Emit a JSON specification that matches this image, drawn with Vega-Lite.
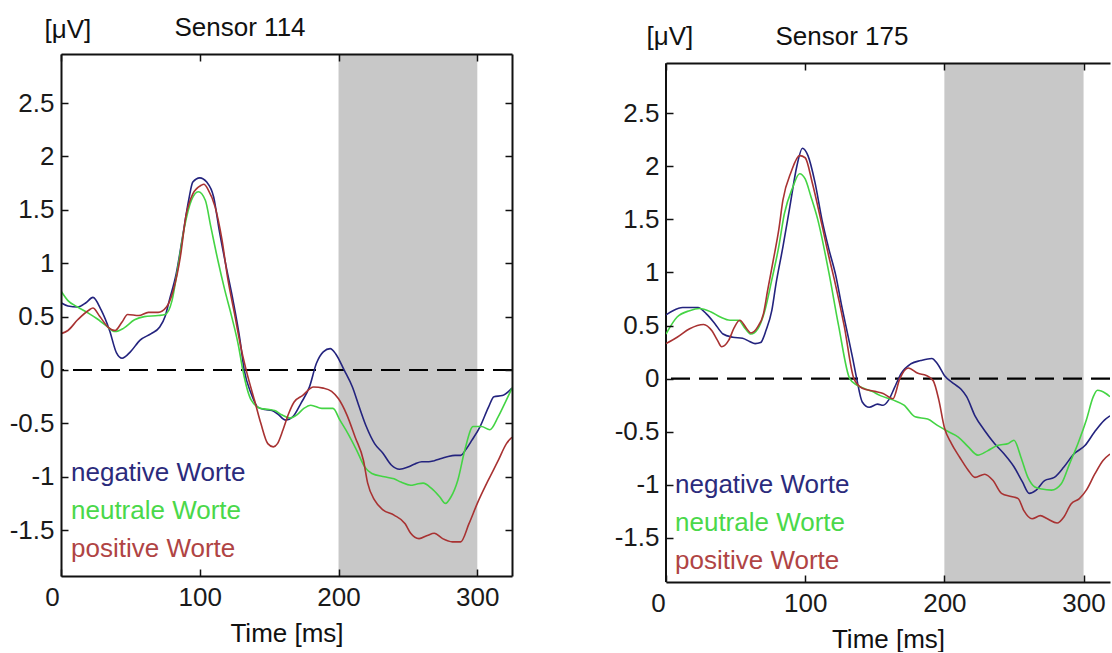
{
"$schema": "https://vega.github.io/schema/vega-lite/v6.json",
"background": "white",
"padding": {"left": 9, "top": 14, "right": 0, "bottom": 0},
"spacing": 99,
"config": {"view": {"stroke": null}, "font": "Liberation Sans", "axis": {"grid": false}},
"resolve": {"scale": {"color": "independent"}, "legend": {"color": "independent"}},
"datasets": {
"band": [{"a": 200, "b": 300}],
"zero": [{"z": 0}],
"s114": [
{"c":"negative Worte","t":0,"v":0.63},{"c":"negative Worte","t":5,"v":0.60},{"c":"negative Worte","t":12,"v":0.59},{"c":"negative Worte","t":18,"v":0.63},{"c":"negative Worte","t":23,"v":0.68},{"c":"negative Worte","t":29,"v":0.56},{"c":"negative Worte","t":35,"v":0.37},{"c":"negative Worte","t":40,"v":0.16},{"c":"negative Worte","t":44,"v":0.11},{"c":"negative Worte","t":50,"v":0.17},{"c":"negative Worte","t":57,"v":0.28},{"c":"negative Worte","t":65,"v":0.34},{"c":"negative Worte","t":71,"v":0.40},{"c":"negative Worte","t":75,"v":0.50},{"c":"negative Worte","t":78,"v":0.65},{"c":"negative Worte","t":83,"v":0.90},{"c":"negative Worte","t":88,"v":1.28},{"c":"negative Worte","t":92,"v":1.59},{"c":"negative Worte","t":95,"v":1.76},{"c":"negative Worte","t":100,"v":1.80},{"c":"negative Worte","t":105,"v":1.76},{"c":"negative Worte","t":110,"v":1.62},{"c":"negative Worte","t":114,"v":1.31},{"c":"negative Worte","t":119,"v":0.97},{"c":"negative Worte","t":124,"v":0.65},{"c":"negative Worte","t":129,"v":0.28},{"c":"negative Worte","t":132,"v":0.0},{"c":"negative Worte","t":137,"v":-0.22},{"c":"negative Worte","t":142,"v":-0.35},{"c":"negative Worte","t":147,"v":-0.37},{"c":"negative Worte","t":152,"v":-0.38},{"c":"negative Worte","t":156,"v":-0.41},{"c":"negative Worte","t":162,"v":-0.47},{"c":"negative Worte","t":167,"v":-0.44},{"c":"negative Worte","t":173,"v":-0.31},{"c":"negative Worte","t":179,"v":-0.16},{"c":"negative Worte","t":184,"v":0.06},{"c":"negative Worte","t":189,"v":0.17},{"c":"negative Worte","t":194,"v":0.20},{"c":"negative Worte","t":198,"v":0.15},{"c":"negative Worte","t":204,"v":0.0},{"c":"negative Worte","t":210,"v":-0.16},{"c":"negative Worte","t":215,"v":-0.35},{"c":"negative Worte","t":220,"v":-0.53},{"c":"negative Worte","t":226,"v":-0.69},{"c":"negative Worte","t":232,"v":-0.78},{"c":"negative Worte","t":238,"v":-0.89},{"c":"negative Worte","t":244,"v":-0.93},{"c":"negative Worte","t":250,"v":-0.91},{"c":"negative Worte","t":255,"v":-0.88},{"c":"negative Worte","t":260,"v":-0.86},{"c":"negative Worte","t":265,"v":-0.86},{"c":"negative Worte","t":269,"v":-0.85},{"c":"negative Worte","t":274,"v":-0.83},{"c":"negative Worte","t":279,"v":-0.81},{"c":"negative Worte","t":284,"v":-0.80},{"c":"negative Worte","t":288,"v":-0.80},{"c":"negative Worte","t":292,"v":-0.74},{"c":"negative Worte","t":296,"v":-0.66},{"c":"negative Worte","t":302,"v":-0.53},{"c":"negative Worte","t":308,"v":-0.35},{"c":"negative Worte","t":312,"v":-0.25},{"c":"negative Worte","t":318,"v":-0.24},{"c":"negative Worte","t":325,"v":-0.17},
{"c":"neutrale Worte","t":0,"v":0.74},{"c":"neutrale Worte","t":5,"v":0.65},{"c":"neutrale Worte","t":12,"v":0.59},{"c":"neutrale Worte","t":20,"v":0.53},{"c":"neutrale Worte","t":26,"v":0.48},{"c":"neutrale Worte","t":32,"v":0.42},{"c":"neutrale Worte","t":39,"v":0.36},{"c":"neutrale Worte","t":45,"v":0.39},{"c":"neutrale Worte","t":53,"v":0.47},{"c":"neutrale Worte","t":60,"v":0.50},{"c":"neutrale Worte","t":70,"v":0.51},{"c":"neutrale Worte","t":75,"v":0.52},{"c":"neutrale Worte","t":80,"v":0.65},{"c":"neutrale Worte","t":84,"v":0.94},{"c":"neutrale Worte","t":89,"v":1.34},{"c":"neutrale Worte","t":94,"v":1.59},{"c":"neutrale Worte","t":99,"v":1.67},{"c":"neutrale Worte","t":104,"v":1.59},{"c":"neutrale Worte","t":108,"v":1.34},{"c":"neutrale Worte","t":113,"v":1.03},{"c":"neutrale Worte","t":118,"v":0.75},{"c":"neutrale Worte","t":123,"v":0.50},{"c":"neutrale Worte","t":128,"v":0.22},{"c":"neutrale Worte","t":131,"v":0.0},{"c":"neutrale Worte","t":137,"v":-0.28},{"c":"neutrale Worte","t":144,"v":-0.36},{"c":"neutrale Worte","t":150,"v":-0.37},{"c":"neutrale Worte","t":154,"v":-0.38},{"c":"neutrale Worte","t":159,"v":-0.42},{"c":"neutrale Worte","t":165,"v":-0.45},{"c":"neutrale Worte","t":170,"v":-0.42},{"c":"neutrale Worte","t":175,"v":-0.36},{"c":"neutrale Worte","t":180,"v":-0.33},{"c":"neutrale Worte","t":188,"v":-0.36},{"c":"neutrale Worte","t":196,"v":-0.36},{"c":"neutrale Worte","t":201,"v":-0.47},{"c":"neutrale Worte","t":207,"v":-0.60},{"c":"neutrale Worte","t":213,"v":-0.75},{"c":"neutrale Worte","t":219,"v":-0.91},{"c":"neutrale Worte","t":224,"v":-0.97},{"c":"neutrale Worte","t":233,"v":-1.00},{"c":"neutrale Worte","t":240,"v":-1.02},{"c":"neutrale Worte","t":245,"v":-1.05},{"c":"neutrale Worte","t":252,"v":-1.08},{"c":"neutrale Worte","t":256,"v":-1.07},{"c":"neutrale Worte","t":261,"v":-1.06},{"c":"neutrale Worte","t":267,"v":-1.11},{"c":"neutrale Worte","t":273,"v":-1.19},{"c":"neutrale Worte","t":277,"v":-1.25},{"c":"neutrale Worte","t":281,"v":-1.19},{"c":"neutrale Worte","t":286,"v":-1.03},{"c":"neutrale Worte","t":291,"v":-0.75},{"c":"neutrale Worte","t":297,"v":-0.53},{"c":"neutrale Worte","t":303,"v":-0.53},{"c":"neutrale Worte","t":309,"v":-0.56},{"c":"neutrale Worte","t":315,"v":-0.44},{"c":"neutrale Worte","t":321,"v":-0.28},{"c":"neutrale Worte","t":325,"v":-0.17},
{"c":"positive Worte","t":0,"v":0.34},{"c":"positive Worte","t":5,"v":0.37},{"c":"positive Worte","t":12,"v":0.47},{"c":"positive Worte","t":20,"v":0.56},{"c":"positive Worte","t":23,"v":0.58},{"c":"positive Worte","t":28,"v":0.50},{"c":"positive Worte","t":34,"v":0.40},{"c":"positive Worte","t":39,"v":0.37},{"c":"positive Worte","t":44,"v":0.45},{"c":"positive Worte","t":48,"v":0.52},{"c":"positive Worte","t":56,"v":0.51},{"c":"positive Worte","t":63,"v":0.54},{"c":"positive Worte","t":70,"v":0.54},{"c":"positive Worte","t":76,"v":0.59},{"c":"positive Worte","t":81,"v":0.75},{"c":"positive Worte","t":86,"v":1.06},{"c":"positive Worte","t":90,"v":1.44},{"c":"positive Worte","t":95,"v":1.65},{"c":"positive Worte","t":101,"v":1.73},{"c":"positive Worte","t":103,"v":1.74},{"c":"positive Worte","t":106,"v":1.69},{"c":"positive Worte","t":111,"v":1.53},{"c":"positive Worte","t":116,"v":1.22},{"c":"positive Worte","t":120,"v":0.87},{"c":"positive Worte","t":125,"v":0.53},{"c":"positive Worte","t":130,"v":0.19},{"c":"positive Worte","t":134,"v":-0.03},{"c":"positive Worte","t":140,"v":-0.31},{"c":"positive Worte","t":144,"v":-0.50},{"c":"positive Worte","t":149,"v":-0.69},{"c":"positive Worte","t":153,"v":-0.72},{"c":"positive Worte","t":156,"v":-0.69},{"c":"positive Worte","t":160,"v":-0.56},{"c":"positive Worte","t":164,"v":-0.41},{"c":"positive Worte","t":168,"v":-0.30},{"c":"positive Worte","t":174,"v":-0.24},{"c":"positive Worte","t":182,"v":-0.16},{"c":"positive Worte","t":189,"v":-0.17},{"c":"positive Worte","t":195,"v":-0.20},{"c":"positive Worte","t":200,"v":-0.27},{"c":"positive Worte","t":206,"v":-0.42},{"c":"positive Worte","t":212,"v":-0.63},{"c":"positive Worte","t":218,"v":-0.85},{"c":"positive Worte","t":221,"v":-1.06},{"c":"positive Worte","t":226,"v":-1.22},{"c":"positive Worte","t":232,"v":-1.31},{"c":"positive Worte","t":240,"v":-1.36},{"c":"positive Worte","t":248,"v":-1.44},{"c":"positive Worte","t":252,"v":-1.53},{"c":"positive Worte","t":258,"v":-1.58},{"c":"positive Worte","t":264,"v":-1.55},{"c":"positive Worte","t":269,"v":-1.53},{"c":"positive Worte","t":275,"v":-1.58},{"c":"positive Worte","t":282,"v":-1.61},{"c":"positive Worte","t":288,"v":-1.61},{"c":"positive Worte","t":294,"v":-1.44},{"c":"positive Worte","t":300,"v":-1.25},{"c":"positive Worte","t":308,"v":-1.03},{"c":"positive Worte","t":315,"v":-0.85},{"c":"positive Worte","t":321,"v":-0.69},{"c":"positive Worte","t":325,"v":-0.63}
],
"s175": [
{"c":"negative Worte","t":0,"v":0.60},{"c":"negative Worte","t":5,"v":0.64},{"c":"negative Worte","t":12,"v":0.67},{"c":"negative Worte","t":23,"v":0.67},{"c":"negative Worte","t":29,"v":0.61},{"c":"negative Worte","t":35,"v":0.52},{"c":"negative Worte","t":41,"v":0.42},{"c":"negative Worte","t":48,"v":0.39},{"c":"negative Worte","t":55,"v":0.38},{"c":"negative Worte","t":60,"v":0.35},{"c":"negative Worte","t":64,"v":0.33},{"c":"negative Worte","t":68,"v":0.34},{"c":"negative Worte","t":72,"v":0.46},{"c":"negative Worte","t":76,"v":0.64},{"c":"negative Worte","t":79,"v":0.89},{"c":"negative Worte","t":84,"v":1.24},{"c":"negative Worte","t":89,"v":1.62},{"c":"negative Worte","t":94,"v":2.0},{"c":"negative Worte","t":98,"v":2.17},{"c":"negative Worte","t":102,"v":2.10},{"c":"negative Worte","t":107,"v":1.85},{"c":"negative Worte","t":112,"v":1.50},{"c":"negative Worte","t":117,"v":1.22},{"c":"negative Worte","t":122,"v":0.97},{"c":"negative Worte","t":126,"v":0.70},{"c":"negative Worte","t":130,"v":0.45},{"c":"negative Worte","t":134,"v":0.20},{"c":"negative Worte","t":137,"v":0.0},{"c":"negative Worte","t":141,"v":-0.22},{"c":"negative Worte","t":146,"v":-0.27},{"c":"negative Worte","t":152,"v":-0.24},{"c":"negative Worte","t":156,"v":-0.25},{"c":"negative Worte","t":160,"v":-0.20},{"c":"negative Worte","t":164,"v":-0.09},{"c":"negative Worte","t":169,"v":0.05},{"c":"negative Worte","t":176,"v":0.14},{"c":"negative Worte","t":183,"v":0.17},{"c":"negative Worte","t":191,"v":0.19},{"c":"negative Worte","t":195,"v":0.14},{"c":"negative Worte","t":200,"v":0.03},{"c":"negative Worte","t":207,"v":-0.05},{"c":"negative Worte","t":212,"v":-0.10},{"c":"negative Worte","t":216,"v":-0.17},{"c":"negative Worte","t":222,"v":-0.35},{"c":"negative Worte","t":229,"v":-0.49},{"c":"negative Worte","t":236,"v":-0.61},{"c":"negative Worte","t":243,"v":-0.71},{"c":"negative Worte","t":250,"v":-0.83},{"c":"negative Worte","t":256,"v":-0.97},{"c":"negative Worte","t":261,"v":-1.08},{"c":"negative Worte","t":266,"v":-1.05},{"c":"negative Worte","t":272,"v":-0.96},{"c":"negative Worte","t":279,"v":-0.93},{"c":"negative Worte","t":286,"v":-0.83},{"c":"negative Worte","t":293,"v":-0.71},{"c":"negative Worte","t":301,"v":-0.63},{"c":"negative Worte","t":308,"v":-0.50},{"c":"negative Worte","t":315,"v":-0.39},{"c":"negative Worte","t":319,"v":-0.35},
{"c":"neutrale Worte","t":0,"v":0.42},{"c":"neutrale Worte","t":8,"v":0.58},{"c":"neutrale Worte","t":17,"v":0.64},{"c":"neutrale Worte","t":24,"v":0.66},{"c":"neutrale Worte","t":32,"v":0.63},{"c":"neutrale Worte","t":39,"v":0.58},{"c":"neutrale Worte","t":46,"v":0.55},{"c":"neutrale Worte","t":52,"v":0.55},{"c":"neutrale Worte","t":57,"v":0.47},{"c":"neutrale Worte","t":61,"v":0.42},{"c":"neutrale Worte","t":66,"v":0.47},{"c":"neutrale Worte","t":71,"v":0.64},{"c":"neutrale Worte","t":76,"v":0.93},{"c":"neutrale Worte","t":81,"v":1.24},{"c":"neutrale Worte","t":85,"v":1.55},{"c":"neutrale Worte","t":91,"v":1.80},{"c":"neutrale Worte","t":96,"v":1.93},{"c":"neutrale Worte","t":100,"v":1.88},{"c":"neutrale Worte","t":104,"v":1.72},{"c":"neutrale Worte","t":109,"v":1.50},{"c":"neutrale Worte","t":117,"v":1.00},{"c":"neutrale Worte","t":124,"v":0.50},{"c":"neutrale Worte","t":132,"v":0.0},{"c":"neutrale Worte","t":137,"v":-0.06},{"c":"neutrale Worte","t":142,"v":-0.09},{"c":"neutrale Worte","t":148,"v":-0.12},{"c":"neutrale Worte","t":154,"v":-0.16},{"c":"neutrale Worte","t":163,"v":-0.20},{"c":"neutrale Worte","t":171,"v":-0.25},{"c":"neutrale Worte","t":179,"v":-0.36},{"c":"neutrale Worte","t":188,"v":-0.38},{"c":"neutrale Worte","t":195,"v":-0.44},{"c":"neutrale Worte","t":203,"v":-0.50},{"c":"neutrale Worte","t":210,"v":-0.55},{"c":"neutrale Worte","t":217,"v":-0.64},{"c":"neutrale Worte","t":224,"v":-0.72},{"c":"neutrale Worte","t":231,"v":-0.68},{"c":"neutrale Worte","t":238,"v":-0.63},{"c":"neutrale Worte","t":246,"v":-0.61},{"c":"neutrale Worte","t":250,"v":-0.58},{"c":"neutrale Worte","t":255,"v":-0.74},{"c":"neutrale Worte","t":260,"v":-0.93},{"c":"neutrale Worte","t":265,"v":-1.02},{"c":"neutrale Worte","t":270,"v":-1.04},{"c":"neutrale Worte","t":277,"v":-1.05},{"c":"neutrale Worte","t":284,"v":-0.99},{"c":"neutrale Worte","t":290,"v":-0.80},{"c":"neutrale Worte","t":296,"v":-0.61},{"c":"neutrale Worte","t":302,"v":-0.39},{"c":"neutrale Worte","t":307,"v":-0.17},{"c":"neutrale Worte","t":310,"v":-0.11},{"c":"neutrale Worte","t":316,"v":-0.14},{"c":"neutrale Worte","t":319,"v":-0.17},
{"c":"positive Worte","t":0,"v":0.33},{"c":"positive Worte","t":8,"v":0.39},{"c":"positive Worte","t":17,"v":0.47},{"c":"positive Worte","t":27,"v":0.51},{"c":"positive Worte","t":33,"v":0.45},{"c":"positive Worte","t":37,"v":0.36},{"c":"positive Worte","t":40,"v":0.30},{"c":"positive Worte","t":45,"v":0.36},{"c":"positive Worte","t":49,"v":0.48},{"c":"positive Worte","t":53,"v":0.55},{"c":"positive Worte","t":58,"v":0.47},{"c":"positive Worte","t":61,"v":0.43},{"c":"positive Worte","t":66,"v":0.49},{"c":"positive Worte","t":70,"v":0.61},{"c":"positive Worte","t":73,"v":0.83},{"c":"positive Worte","t":77,"v":1.11},{"c":"positive Worte","t":81,"v":1.40},{"c":"positive Worte","t":84,"v":1.68},{"c":"positive Worte","t":90,"v":1.95},{"c":"positive Worte","t":96,"v":2.10},{"c":"positive Worte","t":100,"v":2.08},{"c":"positive Worte","t":105,"v":1.85},{"c":"positive Worte","t":112,"v":1.45},{"c":"positive Worte","t":117,"v":1.15},{"c":"positive Worte","t":121,"v":0.93},{"c":"positive Worte","t":128,"v":0.50},{"c":"positive Worte","t":135,"v":0.0},{"c":"positive Worte","t":141,"v":-0.09},{"c":"positive Worte","t":150,"v":-0.12},{"c":"positive Worte","t":156,"v":-0.14},{"c":"positive Worte","t":163,"v":-0.19},{"c":"positive Worte","t":168,"v":0.0},{"c":"positive Worte","t":174,"v":0.10},{"c":"positive Worte","t":181,"v":0.05},{"c":"positive Worte","t":187,"v":0.03},{"c":"positive Worte","t":192,"v":-0.02},{"c":"positive Worte","t":196,"v":-0.20},{"c":"positive Worte","t":200,"v":-0.46},{"c":"positive Worte","t":205,"v":-0.61},{"c":"positive Worte","t":211,"v":-0.74},{"c":"positive Worte","t":217,"v":-0.86},{"c":"positive Worte","t":222,"v":-0.93},{"c":"positive Worte","t":229,"v":-0.90},{"c":"positive Worte","t":235,"v":-0.96},{"c":"positive Worte","t":241,"v":-1.08},{"c":"positive Worte","t":248,"v":-1.11},{"c":"positive Worte","t":253,"v":-1.13},{"c":"positive Worte","t":257,"v":-1.24},{"c":"positive Worte","t":263,"v":-1.32},{"c":"positive Worte","t":269,"v":-1.29},{"c":"positive Worte","t":274,"v":-1.32},{"c":"positive Worte","t":281,"v":-1.36},{"c":"positive Worte","t":286,"v":-1.30},{"c":"positive Worte","t":291,"v":-1.18},{"c":"positive Worte","t":297,"v":-1.13},{"c":"positive Worte","t":302,"v":-1.05},{"c":"positive Worte","t":308,"v":-0.90},{"c":"positive Worte","t":314,"v":-0.77},{"c":"positive Worte","t":319,"v":-0.71}
]
},
"hconcat": [
{
"width": 451, "height": 522,
"resolve": {"axis": {"x": "independent", "y": "independent"}},
"layer": [
{"data": {"name": "band"}, "mark": {"type": "rect", "color": "#c8c8c8"},
 "encoding": {"x": {"field": "a", "type": "quantitative", "scale": {"domain": [0, 325], "nice": false, "zero": false}, "axis": null}, "x2": {"field": "b"}}},
{"data": {"name": "zero"}, "mark": {"type": "rule", "color": "#000000", "strokeWidth": 2.2, "strokeDash": [19, 9]},
 "encoding": {"y": {"field": "z", "type": "quantitative", "scale": {"domain": [-1.93, 2.96], "nice": false, "zero": false}, "axis": null}}},
{"data": {"name": "s114"}, "mark": {"type": "line", "strokeWidth": 1.6, "interpolate": "monotone", "clip": true},
 "encoding": {
  "x": {"field": "t", "type": "quantitative", "scale": {"domain": [0, 325], "nice": false, "zero": false},
   "axis": {"orient": "bottom", "values": [0, 100, 200, 300], "title": "Time [ms]", "domain": true, "domainColor": "#111111", "domainWidth": 2, "ticks": true, "tickSize": -7, "tickColor": "#111111", "tickWidth": 1.5, "labelFontSize": 26, "labelColor": "#1a1a1a", "labelPadding": 15, "labelFlush": false, "labelOverlap": false, "labelOffset": {"condition": {"test": "datum.value === 0", "value": -9}, "value": 0}, "titleFontSize": 26, "titleFontWeight": "normal", "titleColor": "#111111", "titlePadding": 10, "zindex": 1}},
  "y": {"field": "v", "type": "quantitative", "scale": {"domain": [-1.93, 2.96], "nice": false, "zero": false},
   "axis": {"orient": "left", "values": [-1.5, -1, -0.5, 0, 0.5, 1, 1.5, 2, 2.5], "labelExpr": "'' + datum.value", "domain": true, "domainColor": "#111111", "domainWidth": 2, "tickSize": -7, "tickColor": "#111111", "tickWidth": 1.5, "labelFontSize": 26, "labelColor": "#1a1a1a", "labelPadding": 14, "labelOverlap": false, "title": "[μV]", "titleAngle": 0, "titleAlign": "left", "titleBaseline": "alphabetic", "titleX": -17, "titleY": -17, "titleFontSize": 26, "titleFontWeight": "normal", "titleColor": "#111111", "zindex": 1}},
  "color": {"field": "c", "type": "nominal", "scale": {"domain": ["negative Worte", "neutrale Worte", "positive Worte"], "range": ["#23237e", "#44d444", "#a83232"]},
   "legend": {"orient": "none", "legendX": -16, "legendY": 406, "title": null, "symbolSize": 0, "symbolOpacity": 0, "symbolStrokeWidth": 0, "labelOffset": 0, "labelFontSize": 26, "labelLimit": 400, "rowPadding": 12, "padding": 0,
    "encode": {"labels": {"update": {"fill": {"signal": "datum.value == 'negative Worte' ? '#2b2b7c' : datum.value == 'neutrale Worte' ? '#4ad84a' : '#b04444'"}}}}}}
 }},
{"data": {"name": "s114"}, "mark": {"type": "point", "opacity": 0},
 "encoding": {
  "x": {"field": "t", "type": "quantitative", "scale": {"domain": [0, 325], "nice": false, "zero": false},
   "axis": {"orient": "top", "values": [0, 100, 200, 300], "labels": false, "domain": true, "domainColor": "#111111", "domainWidth": 2, "tickSize": -7, "tickColor": "#111111", "tickWidth": 1.5, "title": "Sensor 114", "titleAngle": 0, "titleAlign": "left", "titleBaseline": "alphabetic", "titleX": 113, "titleY": -19, "titleFontSize": 26, "titleFontWeight": "normal", "titleColor": "#111111", "zindex": 1}},
  "y": {"field": "v", "type": "quantitative", "scale": {"domain": [-1.93, 2.96], "nice": false, "zero": false},
   "axis": {"orient": "right", "values": [-1.5, -1, -0.5, 0, 0.5, 1, 1.5, 2, 2.5], "labels": false, "title": null, "domain": true, "domainColor": "#111111", "domainWidth": 2, "tickSize": -7, "tickColor": "#111111", "tickWidth": 1.5, "zindex": 1}}
 }}
]
},
{
"width": 444, "height": 528,
"resolve": {"axis": {"x": "independent", "y": "independent"}},
"layer": [
{"data": {"name": "band"}, "mark": {"type": "rect", "color": "#c8c8c8"},
 "encoding": {"x": {"field": "a", "type": "quantitative", "scale": {"domain": [0, 319], "nice": false, "zero": false}, "axis": null}, "x2": {"field": "b"},
  "y": {"datum": -1.915, "type": "quantitative", "scale": {"domain": [-1.915, 3.057], "nice": false, "zero": false}, "axis": null}, "y2": {"datum": 2.97}}},
{"data": {"name": "zero"}, "mark": {"type": "rule", "color": "#000000", "strokeWidth": 2.2, "strokeDash": [19, 9]},
 "encoding": {"y": {"field": "z", "type": "quantitative", "scale": {"domain": [-1.915, 3.057], "nice": false, "zero": false}, "axis": null}}},
{"data": {"name": "zero"}, "mark": {"type": "rule", "color": "#111111", "strokeWidth": 2},
 "encoding": {"x": {"datum": 0, "type": "quantitative", "scale": {"domain": [0, 319], "nice": false, "zero": false}, "axis": null},
  "y": {"datum": -1.915, "type": "quantitative", "scale": {"domain": [-1.915, 3.057], "nice": false, "zero": false}, "axis": null}, "y2": {"datum": 2.97}}},
{"data": {"name": "s175"}, "mark": {"type": "line", "strokeWidth": 1.6, "interpolate": "monotone", "clip": true},
 "encoding": {
  "x": {"field": "t", "type": "quantitative", "scale": {"domain": [0, 319], "nice": false, "zero": false},
   "axis": {"orient": "bottom", "values": [0, 100, 200, 300], "title": "Time [ms]", "domain": true, "domainColor": "#111111", "domainWidth": 2, "ticks": true, "tickSize": -7, "tickColor": "#111111", "tickWidth": 1.5, "labelFontSize": 26, "labelColor": "#1a1a1a", "labelPadding": 15, "labelFlush": false, "labelOverlap": false, "labelOffset": {"condition": {"test": "datum.value === 0", "value": -8}, "value": 0}, "titleFontSize": 26, "titleFontWeight": "normal", "titleColor": "#111111", "titlePadding": 10, "zindex": 1}},
  "y": {"field": "v", "type": "quantitative", "scale": {"domain": [-1.915, 3.057], "nice": false, "zero": false},
   "axis": {"orient": "left", "values": [-1.5, -1, -0.5, 0, 0.5, 1, 1.5, 2, 2.5], "labelExpr": "'' + datum.value", "domain": false, "tickSize": -7, "tickColor": "#111111", "tickWidth": 1.5, "labelFontSize": 26, "labelColor": "#1a1a1a", "labelPadding": 14, "labelOverlap": false, "title": "[μV]", "titleAngle": 0, "titleAlign": "left", "titleBaseline": "alphabetic", "titleX": -20, "titleY": -9.5, "titleFontSize": 26, "titleFontWeight": "normal", "titleColor": "#111111", "zindex": 1}},
  "color": {"field": "c", "type": "nominal", "scale": {"domain": ["negative Worte", "neutrale Worte", "positive Worte"], "range": ["#23237e", "#44d444", "#a83232"]},
   "legend": {"orient": "none", "legendX": -17, "legendY": 418, "title": null, "symbolSize": 0, "symbolOpacity": 0, "symbolStrokeWidth": 0, "labelOffset": 0, "labelFontSize": 26, "labelLimit": 400, "rowPadding": 12, "padding": 0,
    "encode": {"labels": {"update": {"fill": {"signal": "datum.value == 'negative Worte' ? '#2b2b7c' : datum.value == 'neutrale Worte' ? '#4ad84a' : '#b04444'"}}}}}}
 }},
{"data": {"name": "s175"}, "mark": {"type": "point", "opacity": 0},
 "encoding": {
  "x": {"field": "t", "type": "quantitative", "scale": {"domain": [0, 319], "nice": false, "zero": false},
   "axis": {"orient": "top", "offset": -9, "values": [0, 100, 200, 300], "labels": false, "domain": true, "domainColor": "#111111", "domainWidth": 2, "tickSize": -7, "tickColor": "#111111", "tickWidth": 1.5, "title": "Sensor 175", "titleAngle": 0, "titleAlign": "left", "titleBaseline": "alphabetic", "titleX": 109, "titleY": -19, "titleFontSize": 26, "titleFontWeight": "normal", "titleColor": "#111111", "zindex": 1}},
  "y": {"field": "v", "type": "quantitative", "scale": {"domain": [-1.915, 3.057], "nice": false, "zero": false}, "axis": null}
 }}
]
}
]
}
